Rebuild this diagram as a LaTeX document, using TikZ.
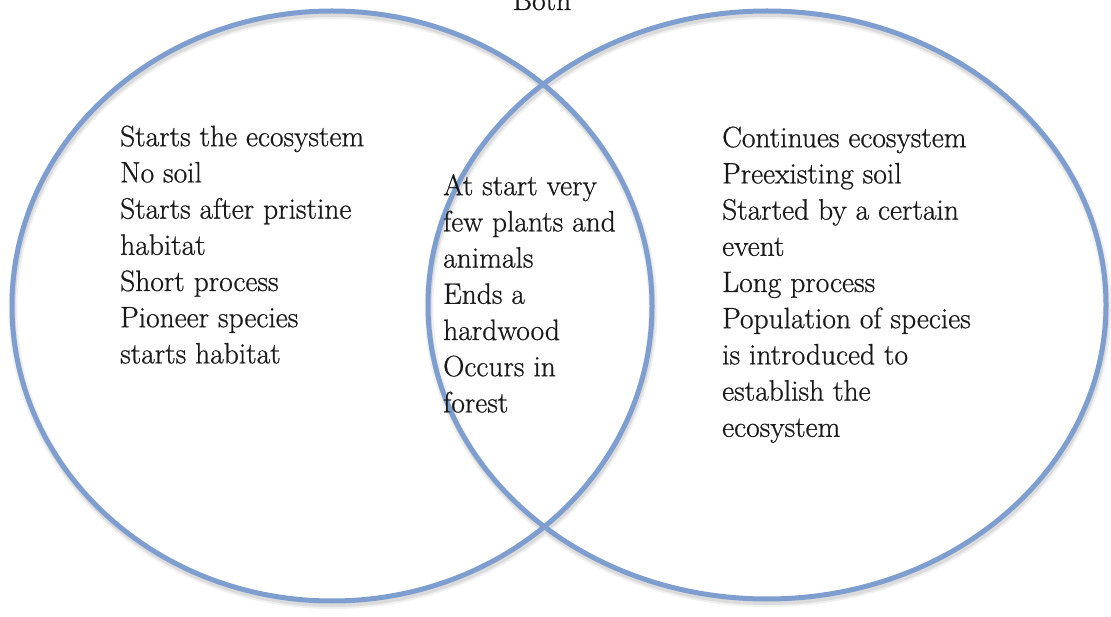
\documentclass[tikz,border=0pt]{standalone}
\usepackage{fontspec}
\newfontfamily\vennfont{Latin Modern Roman}[FakeBold=0.7]
\usetikzlibrary{shapes.geometric}
\definecolor{ringblue}{RGB}{126,158,208}
\begin{document}
\begin{tikzpicture}[x=1pt,y=1pt,
  ring/.style={draw=ringblue, line width=5pt, ellipse, inner sep=0pt, fill=none},
  ringshadow/.style={draw=black!14, line width=5pt, ellipse, inner sep=0pt},
  ringhalo/.style={draw=black!6, line width=9pt, ellipse, inner sep=0pt},
  vtext/.style={font=\vennfont\fontsize{29.5}{36.2}\selectfont, align=left, inner sep=0pt, anchor=north west, text=black!90}
]
\useasboundingbox (0,0) rectangle (1111,616);
% shadows
\node[ringhalo, minimum width=640pt, minimum height=590pt] (Lh) at (333,306.5) {};
\node[ringhalo, minimum width=678pt, minimum height=588pt] (Rh) at (768,307.5) {};
\node[ringshadow, minimum width=640pt, minimum height=590pt] (Ls) at (333,306.5) {};
\node[ringshadow, minimum width=678pt, minimum height=588pt] (Rs) at (768,307.5) {};
% rings
\node[ring, minimum width=640pt, minimum height=590pt] (L) at (332,310) {};
\node[ring, minimum width=678pt, minimum height=588pt] (R) at (767,311) {};
% texts
\node[vtext] (lefttext) at (120,492) {\rule{0pt}{22pt}Starts the ecosystem\\No soil\\Starts after pristine\\habitat\\Short process\\Pioneer species\\starts habitat};
\node[vtext] (midtext) at (443,443) {\rule{0pt}{22pt}At start very\\few plants and\\animals\\Ends a\\hardwood\\Occurs in\\forest};
\node[vtext] (righttext) at (722,491) {\rule{0pt}{22pt}Continues ecosystem\\Preexisting soil\\Started by a certain\\event\\Long process\\Population of species\\is introduced to\\establish the\\ecosystem};
\node[font=\vennfont\fontsize{29.5}{36.2}\selectfont, anchor=base, inner sep=0pt, text=black!90] (both) at (542,606) {Both};
\end{tikzpicture}
\end{document}
